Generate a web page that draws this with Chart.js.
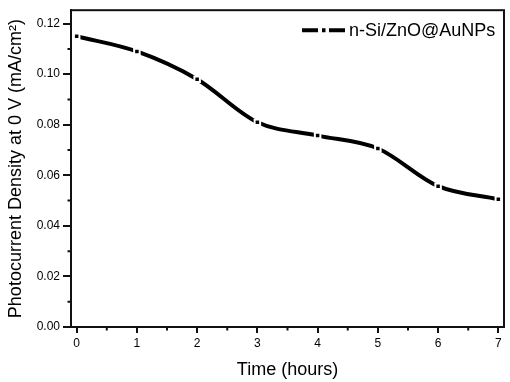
<!DOCTYPE html>
<html>
<head>
<meta charset="utf-8">
<script src="https://cdn.jsdelivr.net/npm/chart.js@4.4.1/dist/chart.umd.min.js"></script>
<style>
  html, body { margin: 0; padding: 0; background: #fff; }
  #wrap { width: 510px; height: 382px; }
</style>
</head>
<body>
<div id="wrap"><canvas id="c" width="510" height="382"></canvas></div>
<script>
// ---- data ----
const hours = [0, 1, 2, 3, 4, 5, 6, 7];
const photocurrent = [0.115, 0.109, 0.098, 0.081, 0.0757, 0.0706, 0.0557, 0.0505];
const seriesLabel = 'n-Si/ZnO@AuNPs';
const xMajorTicks = [0, 1, 2, 3, 4, 5, 6, 7];
const xMinorTicks = [0.5, 1.5, 2.5, 3.5, 4.5, 5.5, 6.5];
const yMajorTicks = [0, 0.02, 0.04, 0.06, 0.08, 0.10, 0.12];
const yMinorTicks = [0.01, 0.03, 0.05, 0.07, 0.09, 0.11];
const xTitle = 'Time (hours)';
const yTitle = 'Photocurrent Density at 0 V (mA/cm\u00B2)';

const FONT = 'Arial, "Liberation Sans", sans-serif';

const framePlugin = {
  id: 'frame',
  afterDraw(chart) {
    const {ctx, chartArea: a, scales: {x, y}} = chart;
    ctx.save();
    ctx.strokeStyle = '#111';
    ctx.lineWidth = 2;
    ctx.strokeRect(a.left, a.top, a.right - a.left, a.bottom - a.top);
    // minor ticks
    ctx.beginPath();
    xMinorTicks.forEach(v => {
      const px = x.getPixelForValue(v);
      ctx.moveTo(px, a.bottom); ctx.lineTo(px, a.bottom + 3.5);
    });
    yMinorTicks.forEach(v => {
      const py = y.getPixelForValue(v);
      ctx.moveTo(a.left, py); ctx.lineTo(a.left - 3.5, py);
    });
    ctx.stroke();
    // legend
    const ly = a.top + 20;
    ctx.lineWidth = 4;
    ctx.lineCap = 'butt';
    ctx.strokeStyle = '#000';
    ctx.beginPath();
    ctx.moveTo(302, ly); ctx.lineTo(318, ly);
    ctx.moveTo(322, ly); ctx.lineTo(325.5, ly);
    ctx.moveTo(329, ly); ctx.lineTo(345, ly);
    ctx.stroke();
    ctx.fillStyle = '#000';
    ctx.font = '18px ' + FONT;
    ctx.textBaseline = 'middle';
    ctx.textAlign = 'left';
    ctx.fillText(seriesLabel, 349, ly + 1);
    ctx.restore();
  }
};

new Chart(document.getElementById('c'), {
  type: 'line',
  data: {
    labels: hours,
    datasets: [{
      label: seriesLabel,
      data: hours.map((h, i) => ({x: h, y: photocurrent[i]})),
      borderColor: '#000',
      borderWidth: 4,
      cubicInterpolationMode: 'monotone',
      pointStyle: 'rect',
      pointRadius: 3.9,
      pointBackgroundColor: '#000',
      pointBorderColor: '#fff',
      pointBorderWidth: 2,
      fill: false
    }]
  },
  options: {
    responsive: false,
    animation: false,
    layout: { padding: { top: 3, right: 5, left: 0, bottom: 0 } },
    plugins: { legend: { display: false }, tooltip: { enabled: false } },
    scales: {
      x: {
        type: 'linear',
        min: -0.094,
        max: 7.094,
        afterBuildTicks(s) { s.ticks = xMajorTicks.map(v => ({value: v})); },
        afterFit(s) { s.height = 55; },
        grid: { display: true, drawOnChartArea: false, drawTicks: true, tickLength: 6, color: '#111', lineWidth: 2 },
        border: { display: true, color: '#111', width: 2 },
        ticks: { color: '#000', font: { family: FONT, size: 12 }, padding: 3, maxRotation: 0,
                 callback: v => String(v) },
        title: { display: true, text: xTitle, color: '#000', font: { family: FONT, size: 18 }, padding: { top: 0, bottom: 1 } }
      },
      y: {
        min: 0,
        max: 0.1253,
        afterBuildTicks(s) { s.ticks = yMajorTicks.map(v => ({value: v})); },
        afterFit(s) { s.width = 71; },
        grid: { display: true, drawOnChartArea: false, drawTicks: true, tickLength: 8, color: '#111', lineWidth: 2 },
        border: { display: true, color: '#111', width: 2 },
        ticks: { color: '#000', font: { family: FONT, size: 12 }, padding: 3,
                 callback: v => Number(v).toFixed(2) },
        title: { display: true, text: yTitle, color: '#000', font: { family: FONT, size: 18 }, padding: { top: 5, bottom: 0 } }
      }
    }
  },
  plugins: [framePlugin]
});
</script>
</body>
</html>
